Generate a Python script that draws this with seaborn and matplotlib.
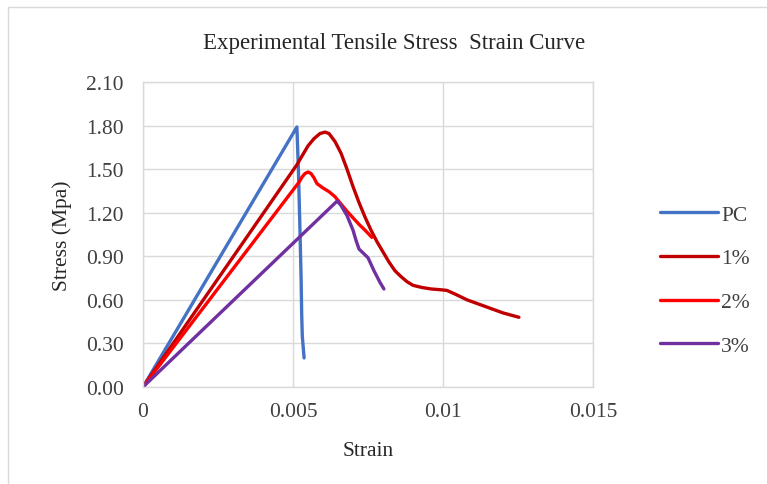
import pandas as pd
import numpy as np
import seaborn as sns
import matplotlib.pyplot as plt
from matplotlib.patches import Rectangle

# Values
pc_strain = [0.0, 0.00513, 0.00518, 0.00523, 0.00527, 0.00529, 0.00531, 0.00537]
pc_stress = [0.0, 1.79, 1.50, 1.10, 0.75, 0.50, 0.35, 0.20]

p1_strain = [0.0, 0.00513, 0.0053, 0.0055, 0.0057, 0.0059, 0.00607, 0.0062, 0.0064, 0.0066,
             0.0068, 0.0070, 0.0072, 0.0074, 0.0076, 0.0078, 0.0080, 0.0082, 0.0084, 0.0086,
             0.0088, 0.0090, 0.0093, 0.0096, 0.0099, 0.01013, 0.0104, 0.0108, 0.0112, 0.0116,
             0.0120, 0.01253]
p1_stress = [0.0, 1.53, 1.59, 1.66, 1.71, 1.745, 1.755, 1.745, 1.69, 1.61,
             1.50, 1.38, 1.27, 1.17, 1.08, 1.00, 0.93, 0.86, 0.80, 0.76,
             0.725, 0.70, 0.685, 0.675, 0.67, 0.665, 0.64, 0.60, 0.57, 0.54,
             0.51, 0.48]

p2_strain = [0.0, 0.0052, 0.0053, 0.0054, 0.0055, 0.0056, 0.0057, 0.0058, 0.0060, 0.0062,
             0.0064, 0.0066, 0.0068, 0.0070, 0.0072, 0.0074, 0.00763]
p2_stress = [0.0, 1.41, 1.445, 1.47, 1.48, 1.47, 1.44, 1.40, 1.37, 1.345,
             1.31, 1.26, 1.21, 1.165, 1.12, 1.08, 1.03]

p3_strain = [0.0, 0.00647, 0.0066, 0.0068, 0.0070, 0.0071, 0.0072, 0.0073, 0.0075, 0.0077,
             0.0079, 0.00803]
p3_stress = [0.0, 1.28, 1.25, 1.18, 1.08, 1.01, 0.95, 0.93, 0.89, 0.80,
             0.72, 0.675]

mix_names = ['PC', '1%', '2%', '3%']
mix_colors = ['#4472C4', '#C00000', '#FF0000', '#7030A0']

x_ticks = [0, 0.005, 0.01, 0.015]
x_labels = ['0', '0.005', '0.01', '0.015']
y_ticks = [0.0, 0.3, 0.6, 0.9, 1.2, 1.5, 1.8, 2.1]

frames = []
for name, xs, ys in zip(mix_names,
                        [pc_strain, p1_strain, p2_strain, p3_strain],
                        [pc_stress, p1_stress, p2_stress, p3_stress]):
    frames.append(pd.DataFrame({'Strain': xs, 'Stress': ys, 'Mix': name}))
df = pd.concat(frames, ignore_index=True)

sns.set_style('white')
plt.rcParams['font.family'] = ['Liberation Serif', 'DejaVu Serif']

fig = plt.figure(figsize=(7.67, 4.85), dpi=100)
ax = fig.add_axes([0.1864, 0.2, 0.5868, 0.6289])

sns.lineplot(data=df, x='Strain', y='Stress', hue='Mix', hue_order=mix_names,
             palette=mix_colors, sort=False, estimator=None, linewidth=2.4, ax=ax)
for ln in ax.get_lines():
    ln.set_solid_joinstyle('round')
    ln.set_solid_capstyle('round')

ax.set_xlim(0, 0.015)
ax.set_ylim(0, 2.1)
ax.set_xticks(x_ticks)
ax.set_xticklabels(x_labels)
ax.set_yticks(y_ticks)
ax.set_yticklabels([f'{v:.2f}' for v in y_ticks])
ax.tick_params(axis='both', length=0, labelsize=15.5, colors='#404040')
ax.tick_params(axis='y', pad=14)
ax.tick_params(axis='x', pad=11)
ax.grid(True, color='#D9D9D9', linewidth=1)
for s in ax.spines.values():
    s.set_color('#D9D9D9')
    s.set_linewidth(1)

ax.set_xlabel('Strain', fontsize=15.5, color='#262626', labelpad=14)
ax.set_ylabel('Stress (Mpa)', fontsize=15.5, color='#262626', labelpad=10)
fig.text(0.514, 0.91, 'Experimental Tensile Stress  Strain Curve',
         ha='center', va='center', fontsize=16.5, color='#262626')

leg = ax.legend(loc='center left', bbox_to_anchor=(1.105, 0.35), frameon=False,
                fontsize=15.5, handlelength=2.7, labelspacing=1.1, handletextpad=0.15)
for t in leg.get_texts():
    t.set_color('#404040')

# light outer chart border
fig.patches.append(Rectangle((0.01, -0.1), 1.2, 1.083, transform=fig.transFigure,
                             fill=False, edgecolor='#D9D9D9', linewidth=1))

fig.savefig('out.png', dpi=100)
